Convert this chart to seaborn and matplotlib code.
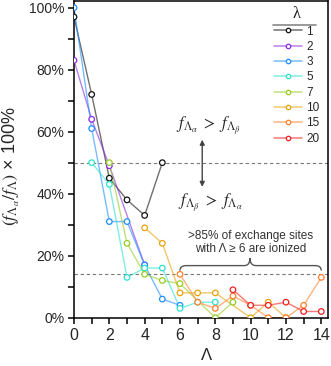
import numpy as np
import pandas as pd
import matplotlib
matplotlib.use("Agg")
import matplotlib.pyplot as plt
import seaborn as sns
from matplotlib.lines import Line2D
from matplotlib.path import Path
from matplotlib.patches import PathPatch
from matplotlib.ticker import MultipleLocator, FuncFormatter
from matplotlib.colors import to_rgba

# ---------------- data ----------------
lambdas = ["1", "2", "3", "5", "7", "10", "15", "20"]
x_l1 = [0, 1, 2, 3, 4, 5]
y_l1 = [97, 72, 45, 38, 33, 50]
x_l2 = [0, 1, 2, 4]
y_l2 = [83, 64, 49, 17]
x_l3 = [0, 1, 2, 3, 4, 5, 6]
y_l3 = [100, 61, 31, 31, 17, 6, 4]
x_l5 = [1, 2, 3, 4, 5, 6, 7, 8]
y_l5 = [50, 43, 13, 16, 16, 3, 5, 5]
x_l7 = [2, 3, 4, 5, 6, 8, 9]
y_l7 = [50, 24, 14, 12, 11, 0, 5]
x_l10 = [4, 5, 6, 7, 8, 10, 11, 12]
y_l10 = [29, 24, 8, 8, 8, 0, 5, 0]
x_l15 = [6, 7, 8, 9, 10, 11, 12, 13, 14]
y_l15 = [14, 5, 3, 7, 4, 0, 0, 4, 13]
x_l20 = [9, 10, 11, 12, 13, 14]
y_l20 = [9, 4, 4, 5, 2, 2]

series_x = [x_l1, x_l2, x_l3, x_l5, x_l7, x_l10, x_l15, x_l20]
series_y = [y_l1, y_l2, y_l3, y_l5, y_l7, y_l10, y_l15, y_l20]
colors = ["#111111", "#8a2be2", "#1e8fff", "#2ee0cc", "#96cc22",
          "#e8a20c", "#ff7f2a", "#f01e1e"]
ref_lines = [50, 14]

frames = []
for lam, xs, ys in zip(lambdas, series_x, series_y):
    frames.append(pd.DataFrame({"Lambda": xs, "pct": ys, "lam": lam}))
df = pd.concat(frames, ignore_index=True)

# ---------------- style ----------------
sns.set_theme(style="ticks")
plt.rcParams["font.family"] = ["Liberation Sans", "DejaVu Sans"]
plt.rcParams["mathtext.fontset"] = "stix"

fig = plt.figure(figsize=(3.31, 3.66), dpi=100)
ax = fig.add_axes([0.2236, 0.132, 0.992 - 0.2236, 0.996 - 0.132])

for yv in ref_lines:
    ax.axhline(yv, color="#777777", lw=0.8, ls=(0, (3, 2.5)), zorder=1)

sns.lineplot(data=df, x="Lambda", y="pct", hue="lam", hue_order=lambdas,
             palette=colors, estimator=None, sort=True, legend=False,
             alpha=0.6, lw=1.0, ax=ax, zorder=2)
sns.scatterplot(data=df, x="Lambda", y="pct", hue="lam", hue_order=lambdas,
                palette=colors, s=16, marker="o", linewidth=0.9,
                legend=False, ax=ax, zorder=3)
for coll in ax.collections:
    fc = coll.get_facecolors()
    if len(fc):
        coll.set_edgecolors(fc)
        coll.set_facecolors("white")

ax.set_xlim(0, 14.4)
ax.set_ylim(0, 102)
ax.xaxis.set_major_locator(MultipleLocator(2))
ax.xaxis.set_minor_locator(MultipleLocator(1))
ax.yaxis.set_major_locator(MultipleLocator(20))
ax.yaxis.set_minor_locator(MultipleLocator(10))
ax.yaxis.set_major_formatter(FuncFormatter(lambda v, p: f"{v:.0f}%"))
ax.tick_params(axis="both", which="both", direction="out", length=4.5,
               width=1.1, color="black")
ax.tick_params(axis="x", which="major", labelsize=11.5, pad=3)
ax.tick_params(axis="y", which="major", labelsize=10, pad=2.5)
for sp in ax.spines.values():
    sp.set_visible(True)
    sp.set_linewidth(1.1)
    sp.set_color("black")

ax.set_xlabel("Λ", fontsize=12)
ax.xaxis.set_label_coords(0.52, -0.096)
ax.set_ylabel(r"$(f_{\Lambda_\alpha}/f_\Lambda)$ × 100%", fontsize=13)
ax.yaxis.set_label_coords(-0.205, 0.48)

# annotations
ax.text(7.6, 62, r"$f_{\Lambda_\alpha}\ >\ f_{\Lambda_\beta}$", ha="center",
        va="center", fontsize=12)
ax.text(7.7, 37, r"$f_{\Lambda_\beta}\ >\ f_{\Lambda_\alpha}$", ha="center",
        va="center", fontsize=12)
ax.annotate("", xy=(7.26, 57.4), xytext=(7.26, 42.2),
            arrowprops=dict(arrowstyle="<|-|>", color="#444444", lw=1.0,
                            mutation_scale=7, shrinkA=0, shrinkB=0))
ax.text(10.0, 24.2, ">85% of exchange sites\nwith Λ ≥ 6 are ionized",
        ha="center", va="center", fontsize=8.5, color="#333333",
        linespacing=1.15)

yb, ye, yt = 16.8, 15.2, 19.2
verts = [(6, ye), (6, yb), (6.35, yb), (9.65, yb), (9.96, yb), (9.96, yt),
         (9.96, yb), (10.3, yb), (13.65, yb), (14, yb), (14, ye)]
codes = [Path.MOVETO, Path.CURVE3, Path.CURVE3, Path.LINETO, Path.CURVE3,
         Path.CURVE3, Path.CURVE3, Path.CURVE3, Path.LINETO, Path.CURVE3,
         Path.CURVE3]
ax.add_patch(PathPatch(Path(verts, codes), fill=False, edgecolor="#555555",
                       lw=1.0, zorder=4))

# legend
handles = []
for c in colors:
    r, g, b, _ = to_rgba(c)
    handles.append(Line2D([], [], color=(r, g, b, 0.55), lw=1.2, marker="o",
                          markersize=3.2, mfc="white", mec=(r, g, b, 1),
                          mew=0.9))
leg = ax.legend(handles, lambdas, title="λ", frameon=False, loc="upper right",
                bbox_to_anchor=(0.965, 0.985), fontsize=8.5, title_fontsize=12,
                labelspacing=0.28, handlelength=2.4, handletextpad=0.35,
                borderaxespad=0, borderpad=0)
leg.get_title().set_family(["Liberation Serif", "DejaVu Serif"])
ax.plot([0.782, 0.952], [0.926, 0.926], transform=ax.transAxes,
        color="#888888", lw=1.2, clip_on=False)

fig.savefig("out.png", dpi=100)
